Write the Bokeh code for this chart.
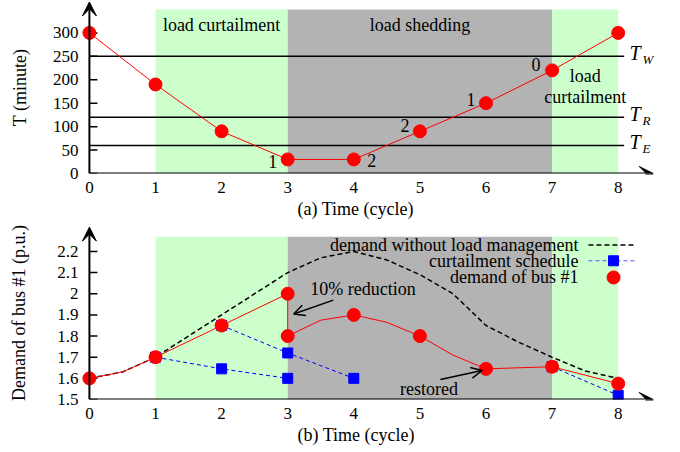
from bokeh.plotting import figure
from bokeh.layouts import column
from bokeh.models import (Range1d, Arrow, VeeHead, OpenHead, FixedTicker, Title,
                          PrintfTickFormatter)
from bokeh.core.properties import value
from bokeh.embed import file_html
from bokeh.resources import INLINE

FONT = "Liberation Serif"
TXT = "18px"
TICK = "17px"

# ---------------- data: panel (a) ----------------
cycles = [0, 1, 2, 3, 4, 5, 6, 7, 8]
t_minutes = [300, 190, 90, 30, 30, 90, 150, 220, 300]
thresholds = [250, 120, 60]
threshold_subs = ["W", "R", "E"]
count_x = [3, 4, 5, 6, 7]
count_y = [30, 30, 90, 150, 220]
count_text = ["1", "2", "2", "1", "0"]
y_ticks_a = [0, 50, 100, 150, 200, 250, 300]

# phases
phase_start = [1, 3, 7]
phase_end = [3, 7, 8]
phase_names_a = ["load curtailment", "load shedding"]
phase_name_x_a = [2, 5]

# ---------------- data: panel (b) ----------------
demand_x = [0, 0.5, 1, 2, 3, 3, 3.5, 4, 4.5, 5, 5.5, 6, 7, 8]
demand_y = [1.6, 1.63, 1.7, 1.85, 2.0, 1.8, 1.875, 1.9, 1.865, 1.8, 1.71, 1.645, 1.655, 1.575]
demand_mark_x = [0, 1, 2, 3, 3, 4, 5, 6, 7, 8]
demand_mark_y = [1.6, 1.7, 1.85, 2.0, 1.8, 1.9, 1.8, 1.645, 1.655, 1.575]
nolm_x = [0, 0.5, 1, 2, 3, 3.5, 4, 4.5, 5, 5.5, 6, 6.5, 7, 7.5, 8]
nolm_y = [1.6, 1.63, 1.7, 1.9, 2.1, 2.17, 2.2, 2.16, 2.09, 2.0, 1.85, 1.77, 1.7, 1.635, 1.6]
sched1_x = [1, 2, 3]
sched1_y = [1.7, 1.645, 1.6]
sched2_x = [2, 3, 4]
sched2_y = [1.85, 1.72, 1.6]
sched3_x = [7, 8]
sched3_y = [1.655, 1.52]
y_ticks_b = [1.5, 1.6, 1.7, 1.8, 1.9, 2.0, 2.1, 2.2]
legend_labels = ["demand without load management", "curtailment schedule", "demand of bus #1"]

GREEN = "#ccffcc"
GRAY = "#b3b3b3"
phase_colors = [GREEN, GRAY, GREEN]


def base_fig(height, y0, y1, top, bottom, ylabel, ystandoff):
    p = figure(width=672, height=height, x_range=Range1d(-0.15, 8.64),
               y_range=Range1d(y0, y1), output_backend="svg", toolbar_location=None,
               title=None, min_border_left=79, min_border_right=12,
               min_border_top=top, min_border_bottom=bottom)
    p.xgrid.visible = False
    p.ygrid.visible = False
    p.outline_line_color = None
    p.background_fill_color = "white"
    p.border_fill_color = "white"
    for ax in (p.xaxis, p.yaxis):
        ax.axis_line_color = None
        ax.minor_tick_line_color = None
        ax.major_tick_in = 0
        ax.major_tick_out = 0
        ax.major_label_text_font = FONT
        ax.major_label_text_font_size = TICK
        ax.major_label_text_color = "black"
    p.xaxis.ticker = FixedTicker(ticks=cycles)
    p.xaxis.major_label_standoff = 8
    p.yaxis.major_label_standoff = 1
    p.yaxis.axis_label = ylabel
    p.yaxis.axis_label_text_font = FONT
    p.yaxis.axis_label_text_font_size = TXT
    p.yaxis.axis_label_text_font_style = "normal"
    p.yaxis.axis_label_text_color = "black"
    p.yaxis.axis_label_standoff = ystandoff
    return p


def text_kw(size=TXT, style="normal", align="center", baseline="middle"):
    return dict(text_font=value(FONT), text_font_size=value(size), text_font_style=style,
                text_align=align, text_baseline=baseline, text_color="black")


def add_xtitle(p, text):
    p.add_layout(Title(text=text, align="left", offset=218, standoff=2, text_font=FONT,
                       text_font_size=TXT, text_font_style="normal", text_color="black"),
                 "below")


def add_axis_arrows(p, y0, y_tip):
    p.add_layout(Arrow(x_start=0, y_start=y0, x_end=8.53, y_end=y0, line_width=2,
                       line_color="black",
                       end=VeeHead(size=14, fill_color="black", line_color="black")))
    p.add_layout(Arrow(x_start=0, y_start=y0, x_end=0, y_end=y_tip, line_width=2,
                       line_color="black",
                       end=VeeHead(size=14, fill_color="black", line_color="black")))


# ======================= panel (a) =======================
p1 = base_fig(224, 0, 367, 1, 51, "T (minute)", 20)
p1.yaxis.ticker = FixedTicker(ticks=y_ticks_a)
p1.quad(left=phase_start, right=phase_end, bottom=0, top=350,
        fill_color=phase_colors, line_color=None)
p1.segment(x0=[0] * len(thresholds), x1=[8.09] * len(thresholds), y0=thresholds,
           y1=thresholds, line_color="black", line_width=1.5)
p1.ray(x=[0] * len(y_ticks_a), y=y_ticks_a, length=8, length_units="screen", angle=0,
       line_color="black", line_width=1.5)
p1.line(cycles, t_minutes, line_color="red", line_width=1)
p1.scatter(cycles, t_minutes, size=13, marker="circle", fill_color="red", line_color="red")

# counters next to points
count_dx = [-15, 18, -15, -15, -16]
count_dy = [2, 1, -6, -4, -6]
p1.text(x=count_x, y=count_y, text=count_text, x_offset=count_dx, y_offset=count_dy, **text_kw())

# phase names
p1.text(x=phase_name_x_a, y=[316, 316], text=phase_names_a, **text_kw())
p1.text(x=[7.5, 7.5], y=[207, 164], text=["load", "curtailment"], **text_kw())

# threshold labels T_W, T_R, T_E
p1.text(x=[8.17] * 3, y=thresholds, text=["T"] * 3, y_offset=-3,
        **text_kw(size="20px", style="italic", align="left"))
p1.text(x=[8.17] * 3, y=thresholds, text=threshold_subs, x_offset=13, y_offset=3,
        **text_kw(size="13px", style="italic", align="left"))

add_axis_arrows(p1, 0, 366)
add_xtitle(p1, "(a) Time (cycle)")

# ======================= panel (b) =======================
p2 = base_fig(228, 1.5, 2.318, 2, 53, "Demand of bus #1 (p.u.)", 25)
p2.yaxis.ticker = FixedTicker(ticks=y_ticks_b)
p2.yaxis.formatter = PrintfTickFormatter(format="%g")
p2.quad(left=phase_start, right=phase_end, bottom=1.5, top=2.27,
        fill_color=phase_colors, line_color=None)
p2.ray(x=[0] * len(y_ticks_b), y=y_ticks_b, length=8, length_units="screen", angle=0,
       line_color="black", line_width=1.5)
p2.line(nolm_x, nolm_y, line_color="black", line_width=1.5, line_dash="5 3")
for sx, sy in ((sched1_x, sched1_y), (sched2_x, sched2_y), (sched3_x, sched3_y)):
    p2.line(sx, sy, line_color="blue", line_width=1, line_dash="4 3")
    p2.scatter(sx, sy, marker="square", size=10, fill_color="blue", line_color="blue")
p2.line(demand_x, demand_y, line_color="red", line_width=1)
p2.scatter(demand_mark_x, demand_mark_y, size=13, marker="circle", fill_color="red",
           line_color="red")

# legend (gnuplot style: text left, sample right)
leg_y = [2.23, 2.156, 2.077]
p2.text(x=[7.4] * 3, y=leg_y, text=legend_labels, **text_kw(align="right"))
p2.segment(x0=[7.55], x1=[8.26], y0=[leg_y[0]], y1=[leg_y[0]], line_color="black",
           line_width=1.5, line_dash="5 3")
p2.segment(x0=[7.55], x1=[8.26], y0=[leg_y[1]], y1=[leg_y[1]], line_color="#5555ff",
           line_width=1.2, line_dash="4 3")
p2.scatter([7.93], [leg_y[1]], marker="square", size=10, fill_color="blue", line_color="blue")
p2.scatter([7.93], [leg_y[2]], marker="circle", size=13, fill_color="red", line_color="red")

# annotations
p2.text(x=[3.34], y=[2.023], text=["10% reduction"], **text_kw(align="left"))
p2.add_layout(Arrow(x_start=3.69, y_start=1.97, x_end=3.09, y_end=1.904, line_width=1.5,
                    line_color="black", end=OpenHead(size=11, line_width=1.5, line_color="black")))
p2.text(x=[4.7], y=[1.552], text=["restored"], **text_kw(align="left"))
p2.add_layout(Arrow(x_start=5.31, y_start=1.595, x_end=5.94, y_end=1.637, line_width=1.5,
                    line_color="black", end=OpenHead(size=11, line_width=1.5, line_color="black")))

add_axis_arrows(p2, 1.5, 2.315)
add_xtitle(p2, "(b) Time (cycle)")

layout = column(p1, p2, spacing=0)
open("out.html", "w").write(file_html(layout, INLINE))
